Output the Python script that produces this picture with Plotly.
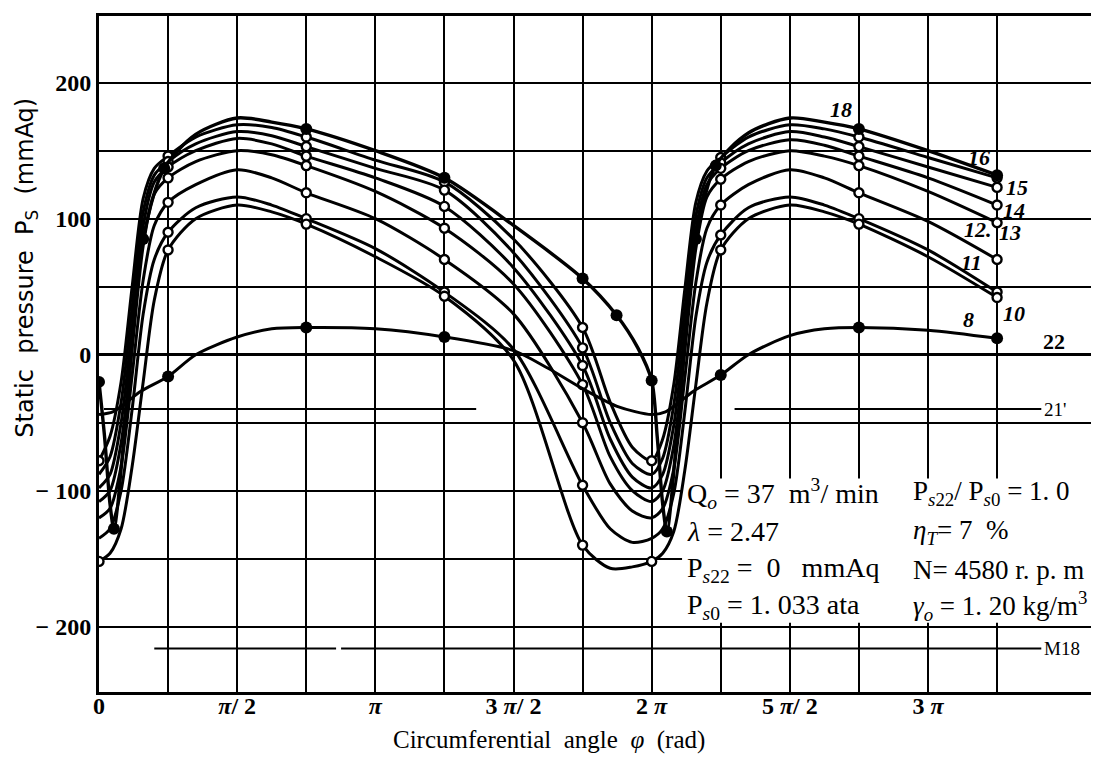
import plotly.graph_objects as go

# ---------------- data (angle in units of pi rad, pressure in mmAq) ----------------
ANGLE = [0, 0.04, 0.08, 0.12, 0.16, 0.2, 0.25, 0.35, 0.5, 0.625, 0.75, 1.0, 1.25, 1.5,
         1.75, 1.85, 1.93, 2.0, 2.04, 2.08, 2.12, 2.16, 2.2, 2.25, 2.35, 2.5, 2.625, 2.75,
         3.0, 3.25]

P16 = [-78, -60, -20, 50, 115, 137, 146, 160, 169, 167, 160, 143, 127, 85,
       20, -35, -68, -78, -62, -22, 48, 112, 135, 145, 160, 169, 166, 160, 145, 130]
P15 = [-88, -75, -35, 35, 105, 132, 142, 155, 164, 161, 153, 137, 121, 75,
       5, -50, -80, -88, -76, -37, 33, 102, 130, 141, 155, 164, 160, 153, 138, 123]
P14 = [-98, -88, -50, 20, 95, 127, 138, 150, 159, 155, 146, 130, 109, 64,
       -8, -62, -90, -98, -88, -52, 18, 92, 125, 137, 150, 158, 154, 146, 130, 110]
P13 = [-108, -100, -65, 5, 80, 118, 130, 142, 150, 147, 139, 120, 93, 52,
       -22, -75, -100, -108, -100, -67, 3, 78, 116, 129, 142, 150, 146, 139, 120, 97]
P12 = [-120, -113, -82, -15, 55, 95, 112, 125, 136, 130, 119, 100, 70, 30,
       -50, -95, -115, -120, -113, -84, -17, 53, 93, 110, 125, 136, 130, 119, 98, 70]
P11 = [-135, -128, -100, -40, 30, 70, 90, 108, 116, 110, 100, 78, 46, 4,
       -96, -128, -138, -135, -128, -102, -42, 28, 68, 88, 108, 116, 110, 100, 77, 46]
P10 = [-152, -146, -128, -82, -20, 40, 77, 100, 110, 105, 96, 72, 43, -4,
       -140, -157, -156, -152, -146, -130, -85, -22, 38, 77, 100, 110, 105, 96, 72, 42]

CURVE_NAMES = ["16", "15", "14", "13", "12", "11", "10"]
CURVE_VALUES = [P16, P15, P14, P13, P12, P11, P10]
OPEN_MARK_ANGLES = [0.25, 0.75, 1.25, 1.75, 2.25, 2.75, 3.25]
EXTRA_MARK_ANGLES = {"16": [0, 2.0], "10": [0, 2.0]}

ANGLE_18 = [0, 0.02, 0.04, 0.054, 0.1, 0.16, 0.236, 0.35, 0.5, 0.625, 0.75, 1.0, 1.25,
            1.5, 1.75, 1.873, 1.95, 2.0, 2.02, 2.04, 2.055, 2.1, 2.16, 2.232, 2.35, 2.5,
            2.625, 2.75, 3.0, 3.25]
P18 = [-20, -60, -110, -128, -40, 85, 137, 162, 174, 171, 166, 150, 130,
       95, 56, 29, 5, -19, -60, -110, -130, -40, 85, 139, 163, 174,
       171, 166, 150, 132]
MARK_18 = [0, 0.054, 0.16, 0.236, 0.75, 1.25, 1.75, 1.873, 2.0, 2.055, 2.16, 2.232, 2.75, 3.25]

ANGLE_8 = [0, 0.05, 0.1, 0.15, 0.25, 0.35, 0.5, 0.625, 0.75, 1.0, 1.25, 1.5, 1.625, 1.75,
           1.875, 2.0, 2.05, 2.1, 2.15, 2.25, 2.35, 2.5, 2.625, 2.75, 3.0, 3.25]
P8 = [-44, -42, -35, -27, -16, 0, 13, 19, 20, 19, 13, 3, -10, -25,
      -38, -44, -42, -35, -27, -15, 0, 14, 19, 20, 18, 12]
MARK_8 = [0.25, 0.75, 1.25, 2.25, 2.75, 3.25]

REF21_ANGLE = [0.018, 1.365, None, 2.30, 3.41]
REF21_P = [-40, -40, None, -40, -40]
REFM18_ANGLE = [0.2, 0.858, None, 0.876, 3.41]
REFM18_P = [-216, -216, None, -216, -216]

X_TICKS = [0, 0.25, 0.5, 0.75, 1.0, 1.25, 1.5, 1.75, 2.0, 2.25, 2.5, 2.75, 3.0, 3.25]
X_TICKTEXT = ["<b>0</b>", "", "<b><i>π</i>/ 2</b>", "", "<b><i>π</i></b>", "",
              "<b>3 <i>π</i>/ 2</b>", "", "<b>2 <i>π</i></b>", "", "<b>5 <i>π</i>/ 2</b>", "",
              "<b>3 <i>π</i></b>", ""]
Y_TICKS = [-200, -150, -100, -50, 0, 50, 100, 150, 200]
Y_TICKTEXT = ["<b>− 200</b>", "", "<b>− 100</b>", "", "<b>0</b>", "", "<b>100</b>", "",
              "<b>200</b>"]

LABELS = [("18", 2.685, 180), ("16", 3.185, 145), ("15", 3.322, 123), ("14", 3.31, 106),
          ("13", 3.295, 90), ("12.", 3.18, 92), ("11", 3.156, 68), ("10", 3.31, 30),
          ("8", 3.145, 26)]

SERIF = "Liberation Serif"
LINE_W = 3.0

fig = go.Figure()

def pick(xs, ys, wanted):
    out_x, out_y = [], []
    for a in wanted:
        i = xs.index(a)
        out_x.append(xs[i]); out_y.append(ys[i])
    return out_x, out_y

# reference lines
fig.add_trace(go.Scatter(x=REF21_ANGLE, y=REF21_P, mode="lines",
                         line=dict(color="black", width=2), hoverinfo="skip"))
fig.add_trace(go.Scatter(x=REFM18_ANGLE, y=REFM18_P, mode="lines",
                         line=dict(color="black", width=2), hoverinfo="skip"))

# main curves
for name, vals in zip(CURVE_NAMES, CURVE_VALUES):
    fig.add_trace(go.Scatter(x=ANGLE, y=vals, mode="lines", name=name,
                             line=dict(color="black", width=LINE_W, shape="spline", smoothing=0.8)))
for name, vals in zip(CURVE_NAMES, CURVE_VALUES):
    mx, my = pick(ANGLE, vals, OPEN_MARK_ANGLES + EXTRA_MARK_ANGLES.get(name, []))
    fig.add_trace(go.Scatter(x=mx, y=my, mode="markers", name=name,
                             marker=dict(symbol="circle", size=9, color="white",
                                         line=dict(color="black", width=2.4))))

fig.add_trace(go.Scatter(x=ANGLE_18, y=P18, mode="lines", name="18",
                         line=dict(color="black", width=3.4, shape="spline", smoothing=0.8)))
mx, my = pick(ANGLE_18, P18, MARK_18)
fig.add_trace(go.Scatter(x=mx, y=my, mode="markers", name="18",
                         marker=dict(size=12, color="black")))

fig.add_trace(go.Scatter(x=ANGLE_8, y=P8, mode="lines", name="8",
                         line=dict(color="black", width=LINE_W, shape="spline", smoothing=0.8)))
mx, my = pick(ANGLE_8, P8, MARK_8)
fig.add_trace(go.Scatter(x=mx, y=my, mode="markers", name="8",
                         marker=dict(size=12, color="black")))

annotations = []
for txt, ax, ay in LABELS:
    annotations.append(dict(x=ax, y=ay, xref="x", yref="y", text="<b><i>" + txt + "</i></b>",
                            showarrow=False, font=dict(family=SERIF, size=22, color="black")))
annotations += [
    dict(x=3.456, y=10, xref="x", yref="y", text="<b>22</b>", showarrow=False,
         font=dict(family=SERIF, size=22, color="black")),
    dict(x=3.413, y=-40, xref="x", yref="y", text="21'", showarrow=False, xanchor="left",
         font=dict(family=SERIF, size=19, color="black")),
    dict(x=3.413, y=-216, xref="x", yref="y", text="M18", showarrow=False, xanchor="left",
         font=dict(family=SERIF, size=19, color="black")),
]

BOX_LEFT = [
    "Q<sub><i>o</i></sub> = 37  m<sup>3</sup>/ min",
    "<i>λ</i> = 2.47",
    "P<sub><i>s</i>22</sub> =  0   mmAq",
    "P<sub><i>s</i>0</sub> = 1. 033 ata",
]
BOX_RIGHT = [
    "P<sub><i>s</i>22</sub>/ P<sub><i>s</i>0</sub> = 1. 0",
    "<i>η<sub>T</sub></i>= 7  %",
    "N= 4580 r. p. m",
    "<i>γ<sub>o</sub></i> = 1. 20 kg/m<sup>3</sup>",
]
BOX_ROWS_P = [-102, -130, -158, -185]
for t, yy in zip(BOX_LEFT, BOX_ROWS_P):
    annotations.append(dict(x=2.12, y=yy, xref="x", yref="y", text=t, showarrow=False,
                            xanchor="left", font=dict(family=SERIF, size=28, color="black")))
for t, yy in zip(BOX_RIGHT, BOX_ROWS_P):
    annotations.append(dict(x=2.94, y=yy, xref="x", yref="y", text=t, showarrow=False,
                            xanchor="left", font=dict(family=SERIF, size=27, color="black")))

annotations.append(dict(x=-0.073, y=0.628, xref="paper", yref="paper", xanchor="center",
                        yanchor="middle",
                        text="Static  pressure  P<sub>S</sub>  (mmAq)", textangle=-90,
                        showarrow=False, font=dict(family="DejaVu Sans", size=24, color="black")))
annotations.append(dict(x=0.451, y=-0.0715, xref="paper", yref="paper", xanchor="center",
                        yanchor="middle",
                        text="Circumferential  angle  <i>φ</i>  (rad)",
                        showarrow=False, font=dict(family=SERIF, size=25, color="black")))

fig.update_layout(
    width=1099, height=764,
    margin=dict(l=91, r=11, t=5, b=80),
    paper_bgcolor="white", plot_bgcolor="white",
    showlegend=False,
    annotations=annotations,
    shapes=[dict(type="rect", xref="x", yref="y", x0=2.11, x1=3.608, y0=-197, y1=-91,
                 fillcolor="white", line=dict(width=0), layer="between")],
    xaxis=dict(range=[0, 3.608], tickvals=X_TICKS, ticktext=X_TICKTEXT, showgrid=True,
               gridcolor="black", gridwidth=2, showline=True, linecolor="black", linewidth=3,
               mirror=True, ticks="", zeroline=False, ticklabelstandoff=-10,
               tickfont=dict(family=SERIF, size=24, color="black")),
    yaxis=dict(range=[-248, 249], tickvals=Y_TICKS, ticktext=Y_TICKTEXT, showgrid=True,
               gridcolor="black", gridwidth=2, showline=True, linecolor="black", linewidth=3,
               mirror=True, ticks="", zeroline=True, zerolinecolor="black", zerolinewidth=3,
               tickfont=dict(family=SERIF, size=24, color="black")),
)

fig.write_html("out.html")
